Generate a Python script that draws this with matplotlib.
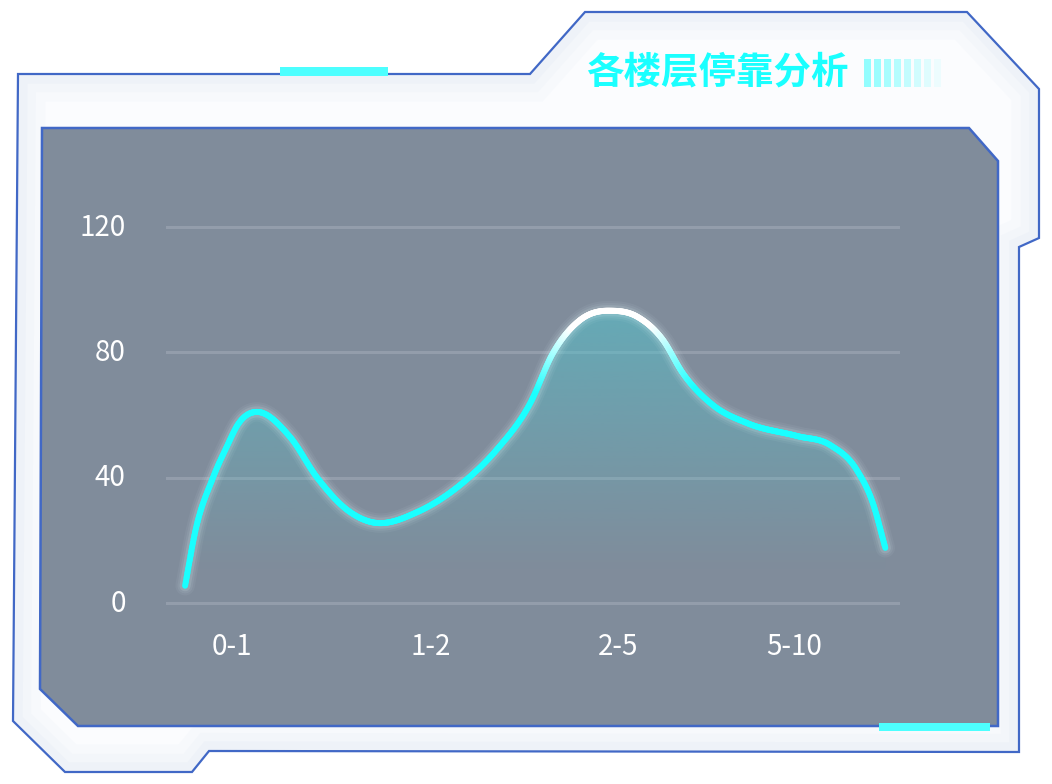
import numpy as np
import matplotlib
matplotlib.use('Agg')
import matplotlib.pyplot as plt
from matplotlib.patches import Polygon, Rectangle
from matplotlib.collections import LineCollection
from matplotlib.colors import to_rgb
from matplotlib.transforms import ScaledTranslation

plt.rcParams['font.family'] = ['Noto Sans CJK SC', 'DejaVu Sans']

# data (x as % of plot width, y in stops)
title = '各楼层停靠分析'
tick_labels = ['0-1', '1-2', '2-5', '5-10']
tick_pos = [9.0, 36.1, 61.6, 85.6]
curve_x = [2.6, 4.0, 6.4, 8.3, 9.8, 12.4, 16.9, 20.6, 25.1, 29.2, 34.2, 40.6, 45.0, 49.6,
           52.7, 56.4, 60.2, 64.2, 67.7, 70.4, 74.5, 79.2, 86.0, 90.5, 94.1, 96.3, 98.0]
curve_y = [5.5, 23, 40, 50, 57, 61, 53, 40, 29, 25.5, 29, 38.7, 48.8, 63.7,
           79.7, 90.3, 93.3, 91.4, 84, 73.4, 63.2, 57.4, 53.3, 50.4, 42.5, 31.9, 17.6]
y_ticks = [0, 40, 80, 120]

CYAN = '#1affff'
BG = '#808c9b'
EDGE = '#4168c6'


def smooth(x, y, xs):
    # cubic hermite with three-point slopes, only used to draw the line smoothly
    x = np.asarray(x, float); y = np.asarray(y, float)
    h = np.diff(x); d = np.diff(y) / h
    m = np.zeros_like(y)
    for k in range(1, len(x) - 1):
        if d[k - 1] * d[k] > 0:
            s = (h[k] * d[k - 1] + h[k - 1] * d[k]) / (h[k - 1] + h[k])
            lim = 3 * min(abs(d[k - 1]), abs(d[k]))
            m[k] = np.sign(s) * min(abs(s), lim)
    m[0] = d[0]
    m[-1] = d[-1]
    idx = np.clip(np.searchsorted(x, xs) - 1, 0, len(x) - 2)
    t = (xs - x[idx]) / h[idx]
    h00 = 2 * t**3 - 3 * t**2 + 1; h10 = t**3 - 2 * t**2 + t
    h01 = -2 * t**3 + 3 * t**2; h11 = t**3 - t**2
    return h00 * y[idx] + h10 * h[idx] * m[idx] + h01 * y[idx + 1] + h11 * h[idx] * m[idx + 1]


fig = plt.figure(figsize=(10.52, 7.84), dpi=100)
fig.patch.set_facecolor('white')

# decorative frame in pixel coords
bg = fig.add_axes([0, 0, 1, 1])
bg.set_xlim(0, 1052); bg.set_ylim(784, 0); bg.axis('off')

outer = [(18, 74), (530, 74), (585, 12), (967, 12), (1039, 89), (1039, 238),
         (1019, 247), (1019, 752), (209, 751), (192, 772), (65, 772), (13, 721)]
frame = Polygon(outer, closed=True, facecolor='#fbfcfe', edgecolor='none', zorder=1)
bg.add_patch(frame)
# soft inner glow along the frame edge
for lw, a in [(40, 0.05), (26, 0.06), (14, 0.08)]:
    g = Polygon(outer, closed=True, fill=False, edgecolor='#b9cbe8', lw=lw, alpha=a, zorder=1.5)
    bg.add_patch(g)
    g.set_clip_path(frame)
bg.add_patch(Polygon(outer, closed=True, fill=False, edgecolor=EDGE, lw=1.6, zorder=2))

inner = [(42, 128), (969, 128), (998, 161), (998, 726), (78, 726), (40, 689)]
bg.add_patch(Polygon(inner, closed=True, facecolor=BG, edgecolor=EDGE, lw=1.8, zorder=3))

bg.add_patch(Rectangle((280, 67), 108, 8.5, facecolor='#4dffff', edgecolor='none', zorder=4))
bg.add_patch(Rectangle((879, 723), 111, 8, facecolor='#4dffff', edgecolor='none', zorder=4))

bg.text(586, 72, title, color=CYAN, fontsize=27, fontweight='bold', ha='left', va='center', zorder=5)
for i, a in enumerate([0.6, 0.55, 0.48, 0.4, 0.32, 0.24, 0.16, 0.08]):
    bg.add_patch(Rectangle((864 + 10 * i, 59), 6.5, 28, facecolor='#4dffff', alpha=a,
                           edgecolor='none', zorder=5))

# chart
ax = fig.add_axes([166 / 1052, 0.1909, 734 / 1052, 0.5594])
ax.set_facecolor('none')
for s in ax.spines.values():
    s.set_visible(False)
ax.set_xlim(0, 100)
ax.set_ylim(-10, 130)
ax.set_yticks(y_ticks)
ax.set_yticklabels([str(v) for v in y_ticks])
ax.set_xticks(tick_pos)
ax.set_xticklabels(tick_labels)
ax.tick_params(length=0, labelcolor='white', labelsize=20)
ax.tick_params(axis='y', pad=29)
ax.tick_params(axis='x', pad=-1.5)
ax.grid(axis='y', color='#a3acb9', lw=2.2, alpha=0.55)
ax.grid(axis='x', visible=False)
for lab in ax.get_yticklabels():
    lab.set_transform(lab.get_transform() + ScaledTranslation(0, 0.03, fig.dpi_scale_trans))

xs = np.linspace(curve_x[0], curve_x[-1], 900)
ys = smooth(curve_x, curve_y, xs)

# gradient fill under the curve
area = np.vstack([np.column_stack([xs, ys]), [[xs[-1], 0], [xs[0], 0]]])
clip = Polygon(area, closed=True, facecolor='none', edgecolor='none', transform=ax.transData)
ax.add_patch(clip)
n = 256
top = max(curve_y)
vals = np.linspace(0, top, n)
rgba = np.zeros((n, 1, 4))
rgba[..., :3] = np.array([80, 195, 205]) / 255
rgba[:, 0, 3] = 0.55 * np.clip((vals - 10) / (top - 10), 0, 1)
im = ax.imshow(rgba, extent=[0, 100, 0, top], origin='lower', aspect='auto', zorder=2)
im.set_clip_path(clip)
ax.set_xlim(0, 100)
ax.set_ylim(-10, 130)

# glow
for lw, a in [(14, 0.05), (11, 0.07), (8, 0.12)]:
    ax.plot(xs, ys, color='#e8ffff', lw=lw, alpha=a, solid_capstyle='round', zorder=3)

# line, cyan -> white at the top
pts = np.column_stack([xs, ys]).reshape(-1, 1, 2)
segs = np.concatenate([pts[:-1], pts[1:]], axis=1)
ym = 0.5 * (ys[:-1] + ys[1:])
t = np.clip((ym - 68) / (88 - 68), 0, 1)[:, None]
cols = (1 - t) * np.array(to_rgb(CYAN)) + t * np.array([1.0, 1.0, 1.0])
lc = LineCollection(segs, colors=cols, linewidths=4.3, zorder=4)
lc.set_capstyle('round')
ax.add_collection(lc)

fig.savefig('out.png', dpi=100)
